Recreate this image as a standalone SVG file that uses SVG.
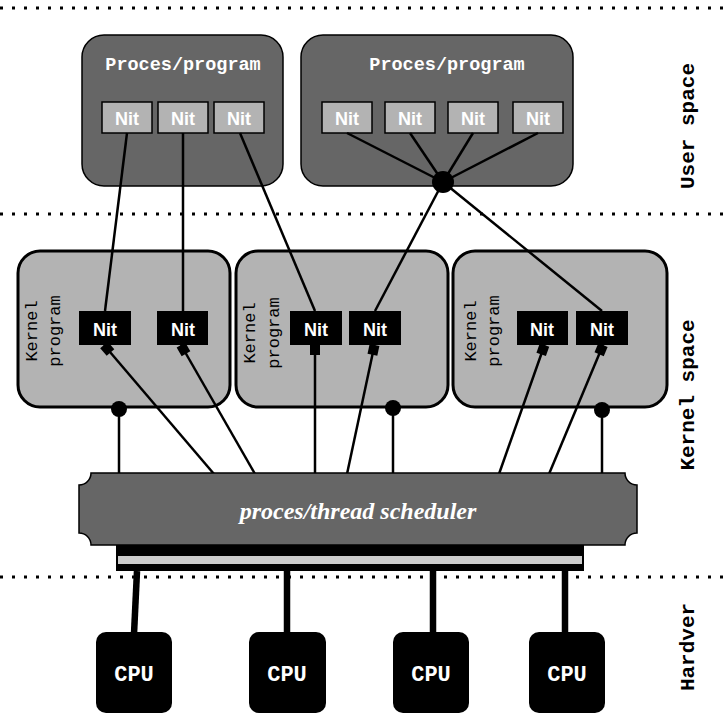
<svg xmlns="http://www.w3.org/2000/svg" width="723" height="726" viewBox="0 0 723 726">
<style>
.dots{stroke:#000;stroke-width:3;stroke-dasharray:3 9;fill:none}
.proc{fill:#666;stroke:#000;stroke-width:1.5}
.unit{fill:#b3b3b3;stroke:#000;stroke-width:1.5}
.kbox{fill:#b3b3b3;stroke:#000;stroke-width:3}
.knit{fill:#000}
.ptitle{font-family:"Liberation Mono",monospace;font-weight:bold;font-size:18.5px;fill:#fff;text-anchor:middle}
.nit{font-family:"Liberation Sans",Arial,sans-serif;font-weight:bold;font-size:18px;fill:#fff;text-anchor:middle}
.klab{font-family:"Liberation Mono",monospace;font-size:17px;fill:#000;text-anchor:middle}
.side{font-family:"Liberation Mono",monospace;font-weight:bold;font-size:21px;fill:#000;text-anchor:middle}
.cpu{fill:#000}
.cputxt{font-family:"Liberation Mono",monospace;font-weight:bold;font-size:22px;fill:#fff;text-anchor:middle}
.ln{stroke:#000;stroke-width:2.5;fill:none}
.thick{stroke:#000;stroke-width:6.5;fill:none}
</style>
<defs>
<marker id="sq" markerUnits="userSpaceOnUse" markerWidth="14" markerHeight="14" viewBox="-1 -7 14 14" refX="0" refY="0" orient="auto">
<rect x="0" y="-5" width="10" height="10" fill="#000"/>
</marker>
</defs>
<rect width="723" height="726" fill="#fff"/>

<g id="separators">
<line class="dots" x1="0" y1="8" x2="723" y2="8"/>
<line class="dots" x1="0" y1="214" x2="723" y2="214"/>
<line class="dots" x1="0" y1="577" x2="723" y2="577"/>
</g>

<g id="side-labels">
<text class="side" transform="translate(694,126) rotate(-90)">User space</text>
<text class="side" transform="translate(694,395) rotate(-90)">Kernel space</text>
<text class="side" transform="translate(694,647) rotate(-90)">Hardver</text>
</g>

<g id="process1">
<rect class="proc" x="82" y="35" width="201" height="151" rx="22"/>
<text class="ptitle" x="183" y="70">Proces/program</text>
<rect class="unit" x="102" y="102" width="50" height="31"/>
<text class="nit" x="127" y="125">Nit</text>
<rect class="unit" x="158" y="102" width="50" height="31"/>
<text class="nit" x="183" y="125">Nit</text>
<rect class="unit" x="214" y="102" width="50" height="31"/>
<text class="nit" x="239" y="125">Nit</text>
</g>

<g id="process2">
<rect class="proc" x="301" y="35" width="272" height="151" rx="22"/>
<text class="ptitle" x="447" y="70">Proces/program</text>
<rect class="unit" x="322" y="102" width="50" height="31"/>
<text class="nit" x="347" y="125">Nit</text>
<rect class="unit" x="385" y="102" width="50" height="31"/>
<text class="nit" x="410" y="125">Nit</text>
<rect class="unit" x="448" y="102" width="50" height="31"/>
<text class="nit" x="473" y="125">Nit</text>
<rect class="unit" x="513" y="102" width="50" height="31"/>
<text class="nit" x="538" y="125">Nit</text>
</g>

<g id="kernel1">
<rect class="kbox" x="18" y="251" width="212" height="156" rx="22"/>
<text class="klab" transform="translate(37,331) rotate(-90)">Kernel</text>
<text class="klab" transform="translate(60,331) rotate(-90)">program</text>
<rect class="knit" x="79" y="311" width="52" height="34"/>
<text class="nit" x="105" y="336">Nit</text>
<rect class="knit" x="157" y="311" width="51" height="34"/>
<text class="nit" x="183" y="336">Nit</text>
</g>

<g id="kernel2">
<rect class="kbox" x="236" y="251" width="212" height="156" rx="22"/>
<text class="klab" transform="translate(255,333) rotate(-90)">Kernel</text>
<text class="klab" transform="translate(279,333) rotate(-90)">program</text>
<rect class="knit" x="290" y="311" width="52" height="34"/>
<text class="nit" x="316" y="336">Nit</text>
<rect class="knit" x="349" y="311" width="52" height="34"/>
<text class="nit" x="375" y="336">Nit</text>
</g>

<g id="kernel3">
<rect class="kbox" x="453" y="251" width="214" height="156" rx="22"/>
<text class="klab" transform="translate(476,331) rotate(-90)">Kernel</text>
<text class="klab" transform="translate(499,331) rotate(-90)">program</text>
<rect class="knit" x="517" y="311" width="51" height="34"/>
<text class="nit" x="542" y="336">Nit</text>
<rect class="knit" x="576" y="311" width="52" height="34"/>
<text class="nit" x="602" y="336">Nit</text>
</g>

<g id="connectors">
<line class="ln" x1="127" y1="133" x2="105" y2="311"/>
<line class="ln" x1="183" y1="133" x2="183" y2="311"/>
<line class="ln" x1="240" y1="133" x2="315" y2="311"/>
<line class="ln" x1="347" y1="133" x2="443" y2="182"/>
<line class="ln" x1="410" y1="133" x2="443" y2="182"/>
<line class="ln" x1="473" y1="133" x2="443" y2="182"/>
<line class="ln" x1="538" y1="133" x2="443" y2="182"/>
<line class="ln" x1="443" y1="182" x2="375" y2="311"/>
<line class="ln" x1="443" y1="182" x2="602" y2="311"/>
<circle cx="443" cy="182" r="11" fill="#000"/>

<line class="ln" x1="104" y1="345" x2="214" y2="474" marker-start="url(#sq)"/>
<line class="ln" x1="181" y1="345" x2="255" y2="474" marker-start="url(#sq)"/>
<line class="ln" x1="315" y1="345" x2="315" y2="474" marker-start="url(#sq)"/>
<line class="ln" x1="374.5" y1="345" x2="347" y2="474" marker-start="url(#sq)"/>
<line class="ln" x1="544.5" y1="345" x2="499" y2="474" marker-start="url(#sq)"/>
<line class="ln" x1="603" y1="345" x2="549" y2="474" marker-start="url(#sq)"/>

<line class="ln" x1="119" y1="409" x2="119" y2="474"/>
<circle cx="119" cy="409" r="8" fill="#000"/>
<line class="ln" x1="393" y1="408" x2="393" y2="474"/>
<circle cx="393" cy="408" r="8" fill="#000"/>
<line class="ln" x1="602" y1="410" x2="602" y2="474"/>
<circle cx="602" cy="410" r="8" fill="#000"/>

<line class="thick" x1="137" y1="571" x2="134" y2="634"/>
<line class="thick" x1="287" y1="571" x2="287" y2="634"/>
<line class="thick" x1="433" y1="571" x2="433" y2="634"/>
<line class="thick" x1="565" y1="571" x2="565" y2="634"/>
</g>

<g id="scheduler">
<path d="M91,473 H625 A12,12 0 0 0 637,485 V533 A12,12 0 0 0 625,545 H91 A12,12 0 0 0 79,533 V485 A12,12 0 0 0 91,473 Z" fill="#666" stroke="#000" stroke-width="1.5"/>
<text x="358" y="519" font-family="'Liberation Serif',serif" font-style="italic" font-weight="bold" font-size="24" fill="#fff" text-anchor="middle">proces/thread scheduler</text>
</g>

<g id="bus">
<rect x="116" y="545" width="468" height="26" fill="#000"/>
<rect x="118" y="556" width="464" height="8" fill="#ccc"/>
</g>

<g id="cpu1">
<rect class="cpu" x="96" y="632" width="76" height="81" rx="10"/>
<text class="cputxt" x="134" y="681">CPU</text>
</g>
<g id="cpu2">
<rect class="cpu" x="249" y="632" width="77" height="81" rx="10"/>
<text class="cputxt" x="287" y="681">CPU</text>
</g>
<g id="cpu3">
<rect class="cpu" x="393" y="632" width="76" height="81" rx="10"/>
<text class="cputxt" x="431" y="681">CPU</text>
</g>
<g id="cpu4">
<rect class="cpu" x="529" y="632" width="76" height="81" rx="10"/>
<text class="cputxt" x="567" y="681">CPU</text>
</g>
</svg>
